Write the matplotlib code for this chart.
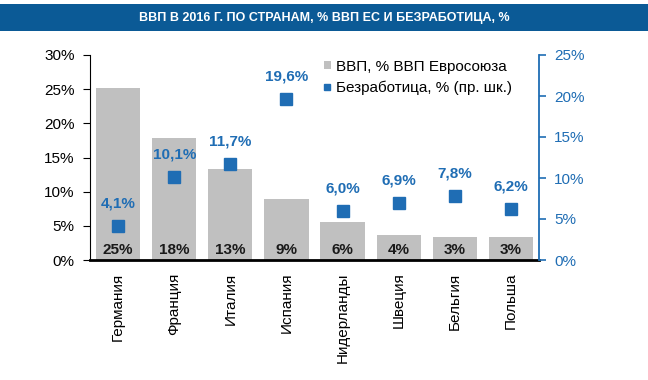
import matplotlib
matplotlib.use("Agg")
from matplotlib import pyplot as plt
from matplotlib.patches import Rectangle
import numpy as np

plt.rcParams['font.family'] = ['Liberation Sans Narrow', 'Liberation Sans', 'DejaVu Sans']

countries = ["Германия", "Франция", "Италия", "Испания", "Нидерланды", "Швеция", "Бельгия", "Польша"]
gdp_share = [25.1, 17.9, 13.3, 8.9, 5.6, 3.7, 3.4, 3.4]
gdp_labels = ["25%", "18%", "13%", "9%", "6%", "4%", "3%", "3%"]
unemployment = [4.1, 10.1, 11.7, 19.6, 6.0, 6.9, 7.8, 6.2]
unemp_labels = ["4,1%", "10,1%", "11,7%", "19,6%", "6,0%", "6,9%", "7,8%", "6,2%"]
left_ticks = [0, 5, 10, 15, 20, 25, 30]
right_ticks = [0, 5, 10, 15, 20, 25]

blue = "#1f6db4"
dark_blue = "#0b5a96"
gray = "#c0c0c0"

fig = plt.figure(figsize=(6.48, 3.8), dpi=100)
# title band
fig.patches.append(Rectangle((0, 1 - 31/380), 1, 27/380, transform=fig.transFigure,
                             facecolor=dark_blue, edgecolor="none"))
fig.text(0.5, 1 - 18/380, "ВВП В 2016 Г. ПО СТРАНАМ, % ВВП ЕС И БЕЗРАБОТИЦА, %",
         color="white", fontsize=9, fontweight="bold", ha="center", va="center")

ax = fig.add_axes([90/648, 1 - 260/380, 449/648, 205/380])
x = np.arange(len(countries))
bars = ax.bar(x, gdp_share, width=0.79, color=gray, label="ВВП, % ВВП Евросоюза", zorder=1)
for xi, lab in zip(x, gdp_labels):
    ax.text(xi, 0.5, lab, ha="center", va="bottom", fontsize=11, fontweight="bold", color="#1a1a1a")

ax.set_xlim(-0.5, len(countries) - 0.5)
ax.set_ylim(0, 30)
ax.set_yticks(left_ticks)
ax.set_yticklabels([f"{t}%" for t in left_ticks], fontsize=11)
ax.set_xticks(x)
ax.set_xticklabels(countries, rotation=90, fontsize=11)
ax.tick_params(axis="x", length=0, pad=9)
ax.tick_params(axis="y", direction="out", length=5, pad=6)
ax.spines["top"].set_visible(False)
ax.spines["right"].set_visible(False)
ax.spines["bottom"].set_linewidth(2)

ax2 = ax.twinx()
pts, = ax2.plot(x, unemployment, linestyle="none", marker="s", markersize=9,
                color=blue, label="Безработица, % (пр. шк.)", zorder=3)
for xi, v, lab in zip(x, unemployment, unemp_labels):
    ax2.text(xi, v + 1.9, lab, ha="center", va="bottom", fontsize=11, fontweight="bold", color=blue)
ax2.set_ylim(0, 25)
ax2.set_yticks(right_ticks)
ax2.set_yticklabels([f"{t}%" for t in right_ticks], fontsize=11, color=blue)
ax2.tick_params(axis="y", direction="out", length=5, width=1.2, pad=6, color=blue)
for s in ["top", "left", "bottom"]:
    ax2.spines[s].set_visible(False)
ax2.spines["right"].set_color(blue)
ax2.spines["right"].set_linewidth(1.3)

ax.legend(handles=[bars, pts], loc="upper left", bbox_to_anchor=(0.49, 1.045), frameon=False,
          fontsize=11, handlelength=0.45, handleheight=0.45, handletextpad=0.35,
          markerscale=0.5, labelspacing=0.45)

fig.savefig("out.png", dpi=100)
